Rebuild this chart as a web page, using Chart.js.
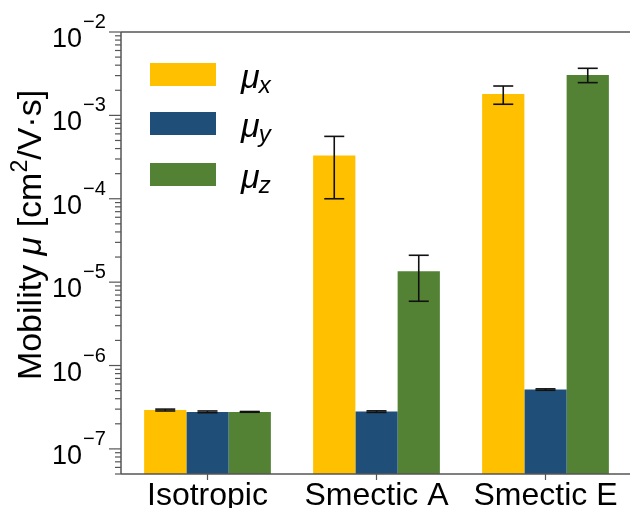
<!DOCTYPE html>
<html lang="en">
<head>
<meta charset="UTF-8">
<title>Mobility by phase</title>
<script src="https://cdn.jsdelivr.net/npm/chart.js"></script>
<style>
  body { margin: 0; background: #fff; }
  canvas { display: block; }
</style>
</head>
<body>
<canvas id="mobChart" width="630" height="508"></canvas>
<script>
// data
const phases = ['Isotropic', 'Smectic A', 'Smectic E'];
const seriesSubs = ['x', 'y', 'z'];
const muX = [2.92e-7, 3.3e-4, 1.8e-3];
const muY = [2.78e-7, 2.8e-7, 5.15e-7];
const muZ = [2.78e-7, 1.35e-5, 3.05e-3];
const muXLow = [2.85e-7, 1.0e-4, 1.36e-3];
const muXHigh = [3.0e-7, 5.6e-4, 2.25e-3];
const muYLow = [2.72e-7, 2.74e-7, 5.05e-7];
const muYHigh = [2.85e-7, 2.86e-7, 5.25e-7];
const muZLow = [2.75e-7, 5.9e-6, 2.47e-3];
const muZHigh = [2.81e-7, 2.1e-5, 3.67e-3];
const yTickExps = [-7, -6, -5, -4, -3, -2];
const yMin = 5e-8, yMax = 1e-2;

const colors = ['#FFC000', '#1F4E79', '#548235'];
const FONT = '"Liberation Sans", Arial, sans-serif';
const errLow = [muXLow, muYLow, muZLow];
const errHigh = [muXHigh, muYHigh, muZHigh];

function line(ctx, x1, y1, x2, y2) {
  ctx.beginPath(); ctx.moveTo(x1, y1); ctx.lineTo(x2, y2); ctx.stroke();
}

const errorBars = {
  id: 'errorBars',
  afterDatasetsDraw(chart) {
    const ctx = chart.ctx, ys = chart.scales.y;
    ctx.save();
    ctx.strokeStyle = '#111';
    ctx.lineWidth = 1.6;
    chart.data.datasets.forEach((ds, i) => {
      chart.getDatasetMeta(i).data.forEach((bar, j) => {
        const top = ys.getPixelForValue(errHigh[i][j]);
        const bot = ys.getPixelForValue(errLow[i][j]);
        line(ctx, bar.x, top, bar.x, bot);
        line(ctx, bar.x - 10, top, bar.x + 10, top);
        line(ctx, bar.x - 10, bot, bar.x + 10, bot);
      });
    });
    ctx.restore();
  }
};

const decorations = {
  id: 'decorations',
  afterDraw(chart) {
    const ctx = chart.ctx, ys = chart.scales.y, xs = chart.scales.x;
    const left = 121, top = 32, bottom = 474, right = 630;
    ctx.save();
    ctx.strokeStyle = '#555';
    ctx.lineWidth = 1.5;
    line(ctx, left, top, left, bottom);
    line(ctx, left, top, right, top);
    line(ctx, left, bottom, right, bottom);

    // y ticks, major and minor
    ctx.lineWidth = 1.2;
    for (let e = -8; e <= -2; e++) {
      for (let m = 1; m <= 9; m++) {
        const v = m * Math.pow(10, e);
        if (v < yMin * 0.999 || v > yMax * 1.001) continue;
        const py = ys.getPixelForValue(v);
        line(ctx, left - (m === 1 ? 12 : 6), py, left, py);
      }
    }
    ctx.fillStyle = '#000';
    yTickExps.forEach(exp => {
      const py = ys.getPixelForValue(Math.pow(10, exp));
      ctx.font = '27px ' + FONT;
      ctx.textAlign = 'right';
      ctx.fillText('10', 82, py + 15);
      ctx.font = '20px ' + FONT;
      ctx.textAlign = 'left';
      ctx.fillText('\u2212' + Math.abs(exp), 83, py - 4);
    });

    // x ticks and labels
    ctx.textAlign = 'center';
    ctx.font = '32px ' + FONT;
    phases.forEach((p, i) => {
      const px = xs.getPixelForValue(i);
      line(ctx, px, bottom, px, bottom + 6);
      ctx.fillText(p, px, 505);
    });

    // y axis title with italic mu and superscript
    const parts = [
      ['Mobility ', '34px ' + FONT, 0],
      ['\u03bc', 'italic 34px ' + FONT, 0],
      [' [cm', '34px ' + FONT, 0],
      ['2', '23px ' + FONT, -14],
      ['/V\u00b7s]', '34px ' + FONT, 0]
    ];
    let total = 0;
    parts.forEach(p => { ctx.font = p[1]; total += ctx.measureText(p[0]).width; });
    ctx.save();
    ctx.translate(41, 235);
    ctx.rotate(-Math.PI / 2);
    ctx.textAlign = 'left';
    let cx = -total / 2;
    parts.forEach(p => {
      ctx.font = p[1];
      ctx.fillText(p[0], cx, p[2]);
      cx += ctx.measureText(p[0]).width;
    });
    ctx.restore();

    // legend
    const legendTops = [63, 112, 163];
    seriesSubs.forEach((s, i) => {
      const ty = legendTops[i];
      ctx.fillStyle = colors[i];
      ctx.fillRect(150, ty, 66, 23);
      ctx.fillStyle = '#000';
      ctx.textAlign = 'left';
      ctx.font = 'italic 34px ' + FONT;
      ctx.fillText('\u03bc', 241, ty + 25);
      const w = ctx.measureText('\u03bc').width;
      ctx.font = 'italic 24px ' + FONT;
      ctx.fillText(s, 241 + w - 1, ty + 30);
    });
    ctx.restore();
  }
};

new Chart(document.getElementById('mobChart'), {
  type: 'bar',
  data: {
    labels: phases,
    datasets: [muX, muY, muZ].map((vals, i) => ({
      label: '\u03bc' + seriesSubs[i],
      data: vals,
      backgroundColor: colors[i],
      borderWidth: 0,
      categoryPercentage: 0.75,
      barPercentage: 1.0
    }))
  },
  options: {
    responsive: false,
    animation: false,
    layout: { padding: { left: 123, top: 32, right: 0, bottom: 34 } },
    scales: {
      x: { type: 'category', display: false },
      y: { type: 'logarithmic', min: yMin, max: yMax, display: false }
    },
    plugins: { legend: { display: false }, tooltip: { enabled: false } }
  },
  plugins: [errorBars, decorations]
});
</script>
</body>
</html>
